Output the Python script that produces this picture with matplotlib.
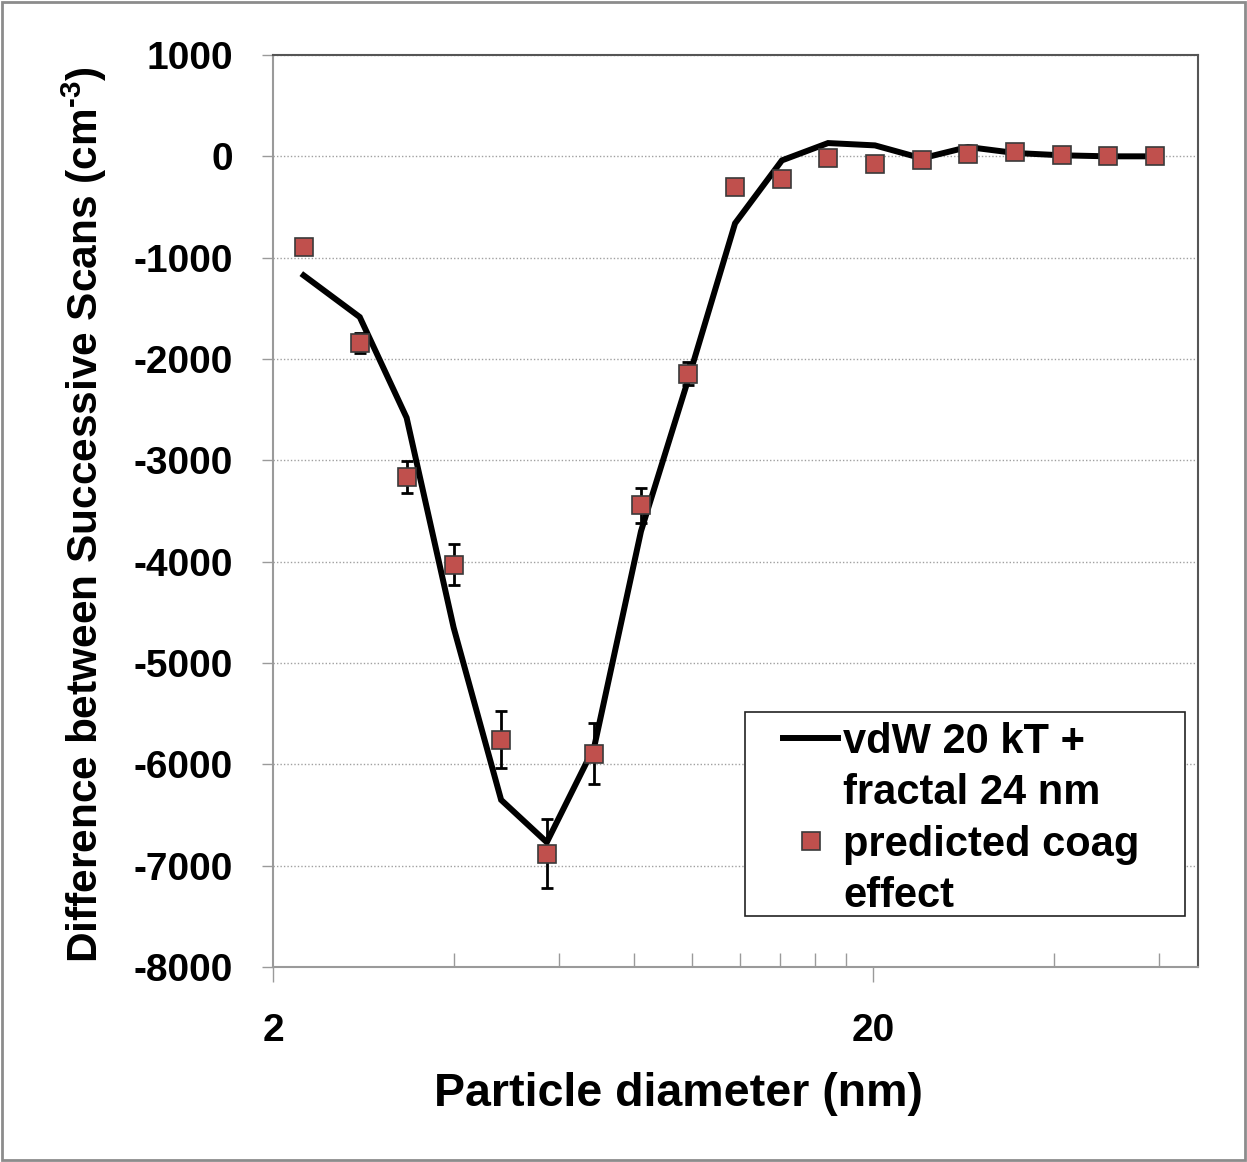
import matplotlib
matplotlib.use("Agg")
import matplotlib.pyplot as plt
from matplotlib.patches import Rectangle
from matplotlib.lines import Line2D

plt.rcParams['font.family'] = ['Liberation Sans', 'DejaVu Sans']
plt.rcParams['font.weight'] = 'bold'
plt.rcParams['mathtext.fontset'] = 'custom'
plt.rcParams['mathtext.rm'] = 'Liberation Sans:bold'
plt.rcParams['mathtext.bf'] = 'Liberation Sans:bold'
plt.rcParams['mathtext.default'] = 'bf'

# ---- data ----
diameter_nm = [2.25, 2.79, 3.34, 4.00, 4.80, 5.72, 6.86, 8.21, 9.83, 11.78,
               14.10, 16.83, 20.15, 24.13, 28.8, 34.5, 41.3, 49.3, 59.0]
predicted_coag = [-895, -1843, -3166, -4028, -5755, -6883, -5897, -3445, -2145, -303,
                  -227, -17, -72, -39, 20, 42, 10, 3, 3]
predicted_err = [0, 100, 156, 202, 286, 340, 300, 172, 115, 0,
                 0, 0, 0, 0, 0, 0, 0, 0, 0]
vdw_fractal = [-1175, -1586, -2580, -4650, -6351, -6769, -5830, -3700, -2211, -661,
               -40, 131, 108, -20, 92, 33, 10, 0, 0]

line_label = ["vdW 20 kT +", "fractal 24 nm"]
marker_label = ["predicted coag", "effect"]
x_label = "Particle diameter (nm)"
y_label = r"Difference between Successive Scans (cm$^{\text{-3}}$)"
x_major = [2, 20]
x_minor = [4, 6, 8, 10, 12, 14, 16, 18, 40, 60]
y_ticks = list(range(-8000, 1001, 1000))

W, H = 1247, 1162
fig = plt.figure(figsize=(W / 100, H / 100), dpi=100)
fig.patch.set_facecolor('white')
fig.add_artist(Rectangle((0.0015, 0.0015), 0.997, 0.997, transform=fig.transFigure,
                         fill=False, edgecolor='#8c8c8c', lw=2))

ax = fig.add_axes([273 / W, 1 - 967 / H, (1198 - 273) / W, (967 - 55) / H])
ax.set_xscale('log')
ax.set_xlim(2, 2 * 10 ** (925 / 600))
ax.set_ylim(-8000, 1000)

ax.yaxis.grid(True, linestyle=(0, (1, 1.5)), color='#a0a0a0', lw=1.0, zorder=0)
ax.set_axisbelow(True)

ax.errorbar(diameter_nm, predicted_coag, yerr=predicted_err, fmt='none',
            ecolor='black', elinewidth=2, capsize=4.5, capthick=2, zorder=2)
ax.plot(diameter_nm, vdw_fractal, color='black', lw=4.3, solid_joinstyle='miter', zorder=3)
ax.plot(diameter_nm, predicted_coag, ls='none', marker='s', ms=13,
        mfc='#C0504D', mec='#3a3a3a', mew=1.2, zorder=4)

ax.set_xticks(x_major)
ax.set_xticklabels([str(v) for v in x_major])
ax.set_xticks(x_minor, minor=True)
ax.set_xticklabels([], minor=True)
ax.set_yticks(y_ticks)
ax.set_yticklabels([str(v) for v in y_ticks])

ax.tick_params(axis='x', which='major', direction='out', length=11, width=1,
               color='#9a9a9a', labelsize=28, pad=22)
ax.tick_params(axis='x', which='minor', direction='in', length=10, width=1,
               color='#9a9a9a')
ax.tick_params(axis='y', which='major', direction='out', length=8, width=1,
               color='#9a9a9a', labelsize=28, pad=21)
ax.tick_params(axis='y', which='minor', left=False)

for s in ['left', 'bottom']:
    ax.spines[s].set_color('#9a9a9a')
    ax.spines[s].set_linewidth(1.5)
for s in ['top', 'right']:
    ax.spines[s].set_color('#555555')
    ax.spines[s].set_linewidth(1.5)

ax.set_xlabel(x_label, fontsize=33.5, fontweight='bold')
ax.xaxis.set_label_coords((678.5 - 273) / 925, -(1072 - 967) / 912)
ax.set_ylabel(y_label, fontsize=30.5, fontweight='bold')
ax.yaxis.set_label_coords((109 - 273) / 925, (967 - 515) / 912)

# legend box
ax.add_patch(Rectangle(((745 - 273) / 925, (967 - 916) / 912),
                       (1185 - 745) / 925, (916 - 712) / 912,
                       transform=ax.transAxes, fill=True, facecolor='white',
                       edgecolor='#222222', lw=1.2, zorder=5))
blank = Line2D([], [], ls='none', marker=None)
handles = [Line2D([], [], color='black', lw=4.3), blank,
           Line2D([], [], ls='none', marker='s', ms=13, mfc='#C0504D', mec='#3a3a3a', mew=1.2),
           blank]
labels = [line_label[0], line_label[1], marker_label[0], marker_label[1]]
leg = ax.legend(handles, labels, loc='upper left',
                bbox_to_anchor=((783 - 273) / 925, (967 - 722) / 912),
                frameon=False, fontsize=30, handlelength=1.32, handletextpad=0.12,
                labelspacing=0.27, borderpad=0, borderaxespad=0)
leg.set_zorder(6)

fig.savefig('out.png', dpi=100, facecolor='white')
